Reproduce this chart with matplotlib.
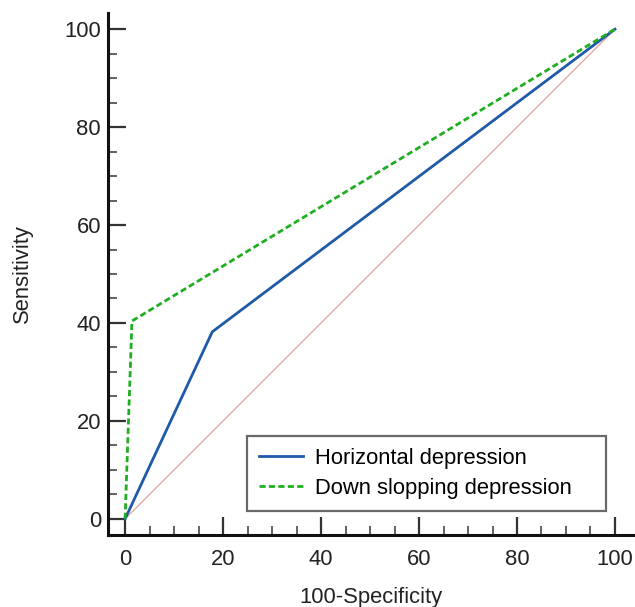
import matplotlib
matplotlib.use("Agg")
import matplotlib.pyplot as plt
from matplotlib.ticker import MultipleLocator

plt.rcParams['font.family'] = ['Liberation Sans', 'DejaVu Sans']

# ROC points (100-Specificity, Sensitivity)
horiz_x = [0, 17.8, 100]
horiz_y = [0, 38.2, 100]
down_x = [0, 1.4, 100]
down_y = [0, 40.4, 100]
diag = [0, 100]

fig = plt.figure(figsize=(6.35, 6.07), dpi=100)
ax = fig.add_axes([0.170, 0.1186, 0.827, 0.86])

ax.plot(diag, diag, color='#e3a0a0', lw=0.9)
ax.plot(horiz_x, horiz_y, color='#1f5aaa', lw=2, label='Horizontal depression')
ax.plot(down_x, down_y, color='#1fae1f', lw=2, ls=(0, (2.2, 1.2)),
        label='Down slopping depression')

ax.set_xlim(-3.5, 103.7)
ax.set_ylim(-3.3, 103.3)
ax.spines['top'].set_visible(False)
ax.spines['right'].set_visible(False)
for s in ('left', 'bottom'):
    ax.spines[s].set_linewidth(2.2)
    ax.spines[s].set_color('#111111')

ax.xaxis.set_major_locator(MultipleLocator(20))
ax.xaxis.set_minor_locator(MultipleLocator(5))
ax.yaxis.set_major_locator(MultipleLocator(20))
ax.yaxis.set_minor_locator(MultipleLocator(5))
ax.tick_params(which='major', direction='in', length=13, width=1.6, color='#333333',
               labelsize=15.8, labelcolor='#222222')
ax.tick_params(which='minor', direction='in', length=6.5, width=1.3, color='#555555')
ax.tick_params(axis='x', which='major', pad=10)
ax.tick_params(axis='y', which='major', pad=5)
ax.set_xticks([0, 20, 40, 60, 80, 100])
ax.set_yticks([0, 20, 40, 60, 80, 100])

ax.set_xlabel('100-Specificity', fontsize=15.8, color='#222222', labelpad=12)
ax.set_ylabel('Sensitivity', fontsize=15.8, color='#222222')
ax.yaxis.set_label_coords(-0.143, 0.5)

leg = ax.legend(loc='lower left', bbox_to_anchor=(0.265, 0.046, 0.684, 0.2),
                mode='expand', fontsize=15.8,
                frameon=True, fancybox=False, handlelength=2.0, handletextpad=0.55,
                borderpad=0.55, labelspacing=0.42, borderaxespad=0)
leg.get_frame().set_edgecolor('#444444')
leg.get_frame().set_linewidth(1.6)

fig.savefig('out.png', dpi=100)
